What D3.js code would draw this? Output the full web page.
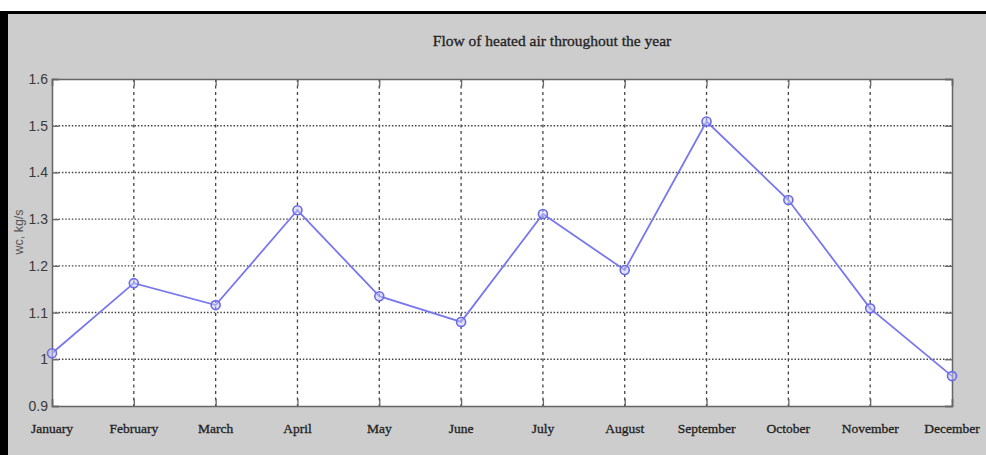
<!DOCTYPE html>
<html>
<head>
<meta charset="utf-8">
<script src="https://cdn.jsdelivr.net/npm/d3@7"></script>
<style>
  body { margin: 0; background: #fff; }
  svg { display: block; }
</style>
</head>
<body>
<div id="chart"></div>
<script>
const months = ["January", "February", "March", "April", "May", "June",
  "July", "August", "September", "October", "November", "December"];
const flow = [1.013, 1.163, 1.116, 1.319, 1.135, 1.080,
  1.311, 1.191, 1.509, 1.341, 1.109, 0.964];
const yTicks = [0.9, 1.0, 1.1, 1.2, 1.3, 1.4, 1.5, 1.6];

const width = 986, height = 455;
const margin = ({ top: 79, right: 34, bottom: 49, left: 52 });

let svg = d3.select("#chart")
  .append("svg")
  .attr("width", width)
  .attr("height", height)
  .attr("viewBox", [0, 0, width, height]);

// grey frame with black top/left edge
svg.append("rect").attr("x", 0).attr("y", 11).attr("width", width).attr("height", height - 11).attr("fill", "#000");
svg.append("rect").attr("x", 8).attr("y", 14).attr("width", width - 8).attr("height", height - 14).attr("fill", "#cdcdcd");

let x = d3.scalePoint()
  .domain(months)
  .range([margin.left, width - margin.right]);

let y = d3.scaleLinear()
  .domain([0.9, 1.6])
  .range([height - margin.bottom, margin.top]);

// plot background
svg.append("rect")
  .attr("x", margin.left)
  .attr("y", margin.top)
  .attr("width", width - margin.right - margin.left)
  .attr("height", height - margin.bottom - margin.top)
  .attr("fill", "#fff");

// grid lines
svg.append("g")
  .selectAll("line")
  .data(yTicks.slice(1, -1))
  .join("line")
  .attr("x1", margin.left)
  .attr("x2", width - margin.right)
  .attr("y1", d => y(d))
  .attr("y2", d => y(d))
  .attr("stroke", "#444")
  .attr("stroke-width", 1.4)
  .attr("stroke-dasharray", "1.5,1.8");

svg.append("g")
  .selectAll("line")
  .data(months.slice(1, -1))
  .join("line")
  .attr("x1", d => x(d))
  .attr("x2", d => x(d))
  .attr("y1", margin.top)
  .attr("y2", height - margin.bottom)
  .attr("stroke", "#444")
  .attr("stroke-width", 1.3)
  .attr("stroke-dasharray", "3,3.5");

// axes (ticks pointing inward, MATLAB style)
const fmt = d => d3.format(".1~f")(d);

let yAxis = svg.append("g")
  .attr("transform", `translate(${margin.left},0)`)
  .call(d3.axisRight(y).tickValues(yTicks).tickSize(7).tickFormat(""));
let yAxisR = svg.append("g")
  .attr("transform", `translate(${width - margin.right},0)`)
  .call(d3.axisLeft(y).tickValues(yTicks).tickSize(7).tickFormat(""));
let xAxis = svg.append("g")
  .attr("transform", `translate(0,${height - margin.bottom})`)
  .call(d3.axisTop(x).tickSize(7).tickFormat(""));
let xAxisT = svg.append("g")
  .attr("transform", `translate(0,${margin.top})`)
  .call(d3.axisBottom(x).tickSize(7).tickFormat(""));

[yAxis, yAxisR, xAxis, xAxisT].forEach(g => {
  g.selectAll("path").attr("stroke", "#666").attr("stroke-width", 1.5);
  g.selectAll("line").attr("stroke", "#666").attr("stroke-width", 1.3);
});

// tick labels
svg.append("g")
  .selectAll("text")
  .data(yTicks)
  .join("text")
  .attr("x", margin.left - 4)
  .attr("y", d => y(d) + 5)
  .attr("text-anchor", "end")
  .attr("font-family", "'Liberation Sans Narrow', 'Arial Narrow', sans-serif")
  .attr("font-size", 14)
  .attr("fill", "#3a3a3a")
  .text(fmt);

svg.append("g")
  .selectAll("text")
  .data(months)
  .join("text")
  .attr("x", d => x(d))
  .attr("y", height - margin.bottom + 27)
  .attr("text-anchor", "middle")
  .attr("font-family", "'Liberation Serif', serif")
  .attr("font-size", 13.5)
  .attr("fill", "#222")
  .attr("stroke", "#222")
  .attr("stroke-width", 0.3)
  .text(d => d);

// axis label and title
svg.append("text")
  .attr("transform", `translate(23,232) rotate(-90)`)
  .attr("text-anchor", "middle")
  .attr("font-family", "'Liberation Sans', sans-serif")
  .attr("font-size", 12.5)
  .attr("fill", "#555")
  .text("wc, kg/s");

svg.append("text")
  .attr("x", 552)
  .attr("y", 46)
  .attr("text-anchor", "middle")
  .attr("font-family", "'Liberation Serif', serif")
  .attr("font-size", 15.5)
  .attr("fill", "#222")
  .attr("stroke", "#222")
  .attr("stroke-width", 0.3)
  .text("Flow of heated air throughout the year");

// data line with circle markers
let line = d3.line()
  .x((d, i) => x(months[i]))
  .y(d => y(d));

svg.append("path")
  .datum(flow)
  .attr("fill", "none")
  .attr("stroke", "#7878ee")
  .attr("stroke-width", 1.8)
  .attr("d", line);

svg.append("g")
  .selectAll("circle")
  .data(flow)
  .join("circle")
  .attr("cx", (d, i) => x(months[i]))
  .attr("cy", d => y(d))
  .attr("r", 4.5)
  .attr("fill", "#c8c8f8")
  .attr("fill-opacity", 0.5)
  .attr("stroke", "#6a6ae8")
  .attr("stroke-width", 1.6);
</script>
</body>
</html>
